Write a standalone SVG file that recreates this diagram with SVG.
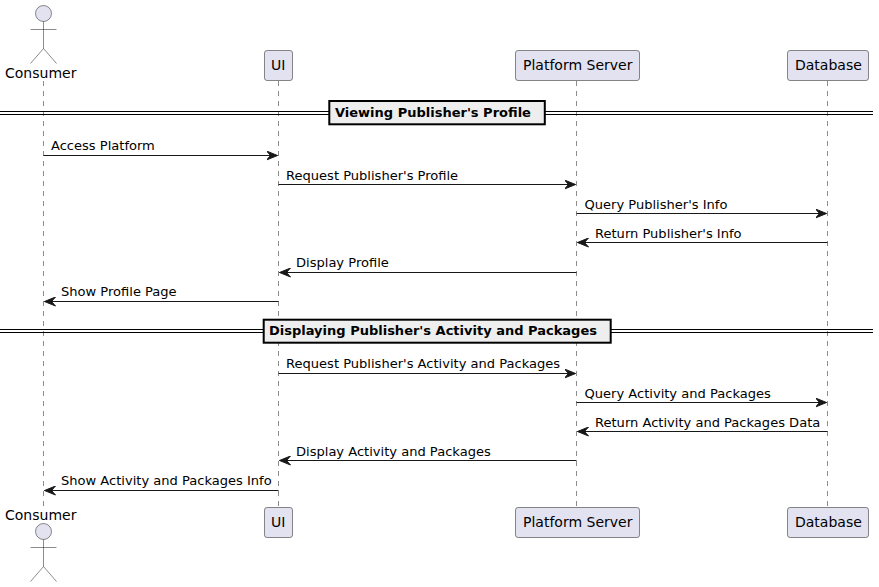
<svg xmlns="http://www.w3.org/2000/svg" width="879" height="587" viewBox="0 0 879 587">
<style>
text{font-family:"DejaVu Sans",sans-serif;fill:#000}
.p{font-size:14px}
.m{font-size:13.05px}
.box{fill:#E2E2F0;stroke:#181818;stroke-width:.5}
.life{stroke:#181818;stroke-width:.5;stroke-dasharray:5,5;fill:none}
.msg{stroke:#181818;stroke-width:1;fill:none}
.head{fill:#181818;stroke:#181818}
.div{stroke:#000;stroke-width:1;fill:none}
.dbox{fill:#EEEEEE;stroke:#000;stroke-width:2}
.dt{font-size:13px;font-weight:bold}
.act{fill:#E2E2F0;stroke:#181818;stroke-width:.5}
</style>
<defs>
<marker id="a" viewBox="0 0 12 10" refX="11" refY="5" markerWidth="12" markerHeight="10" markerUnits="userSpaceOnUse" orient="auto"><path d="M0,0.5L11,5L0,9.5L4,5Z" class="head" stroke-width="1"/></marker>
<g id="stick"><circle cx="0" cy="0" r="8" class="act"/><path d="M0,8V35M-13,16H13M0,35L-13,50M0,35L13,50" class="act" style="fill:none"/></g>
</defs>
<g id="lifelines">
<path class="life" d="M43.500,81V507"/>
<path class="life" d="M278.500,81V507"/>
<path class="life" d="M576.500,81V507"/>
<path class="life" d="M827.500,81V507"/>
</g>
<g id="dividers">
<path class="div" d="M0,111.500H873M0,114.500H873"/>
<rect class="dbox" x="329.300" y="101" width="215.500" height="23.300"/>
<text class="dt" x="335" y="117">Viewing Publisher's Profile</text>
<path class="div" d="M0,329.500H873M0,332.500H873"/>
<rect class="dbox" x="263.700" y="319.700" width="347" height="23"/>
<text class="dt" x="269" y="335">Displaying Publisher's Activity and Packages</text>
</g>
<g id="connectors">
<path class="msg" marker-end="url(#a)" d="M43.500,155.500H277.500"/>
<path class="msg" marker-end="url(#a)" d="M278.500,184.500H575.500"/>
<path class="msg" marker-end="url(#a)" d="M576.500,213.500H826.500"/>
<path class="msg" marker-end="url(#a)" d="M827.500,242.500H577.500"/>
<path class="msg" marker-end="url(#a)" d="M576.500,272.500H279.500"/>
<path class="msg" marker-end="url(#a)" d="M278.500,301.500H44.500"/>
<path class="msg" marker-end="url(#a)" d="M278.500,373.500H575.500"/>
<path class="msg" marker-end="url(#a)" d="M576.500,402.500H826.500"/>
<path class="msg" marker-end="url(#a)" d="M827.500,431.500H577.500"/>
<path class="msg" marker-end="url(#a)" d="M576.500,460.500H279.500"/>
<path class="msg" marker-end="url(#a)" d="M278.500,490.500H44.500"/>
</g>
<g id="labels">
<text class="m" x="51" y="150">Access Platform</text>
<text class="m" x="286" y="180">Request Publisher's Profile</text>
<text class="m" x="584.500" y="209">Query Publisher's Info</text>
<text class="m" x="595" y="238">Return Publisher's Info</text>
<text class="m" x="296" y="267">Display Profile</text>
<text class="m" x="61" y="296">Show Profile Page</text>
<text class="m" x="286" y="368">Request Publisher's Activity and Packages</text>
<text class="m" x="584.500" y="398">Query Activity and Packages</text>
<text class="m" x="595" y="427">Return Activity and Packages Data</text>
<text class="m" x="296" y="456">Display Activity and Packages</text>
<text class="m" x="61" y="485">Show Activity and Packages Info</text>
</g>
<g id="consumer-top"><use href="#stick" x="43.500" y="13.500"/><text class="p" x="5" y="78">Consumer</text></g>
<g id="ui-top"><rect class="box" x="264.500" y="50.500" width="28" height="30" rx="2.500"/><text class="p" x="271" y="70">UI</text></g>
<g id="server-top"><rect class="box" x="515.500" y="50.500" width="124" height="30" rx="2.500"/><text class="p" x="523" y="70">Platform Server</text></g>
<g id="database-top"><rect class="box" x="787.500" y="50.500" width="81" height="30" rx="2.500"/><text class="p" x="795" y="70">Database</text></g>
<g id="consumer-bottom"><text class="p" x="5" y="520">Consumer</text><use href="#stick" x="43.500" y="531.500"/></g>
<g id="ui-bottom"><rect class="box" x="264.500" y="507.500" width="28" height="30" rx="2.500"/><text class="p" x="271" y="527">UI</text></g>
<g id="server-bottom"><rect class="box" x="515.500" y="507.500" width="124" height="30" rx="2.500"/><text class="p" x="523" y="527">Platform Server</text></g>
<g id="database-bottom"><rect class="box" x="787.500" y="507.500" width="81" height="30" rx="2.500"/><text class="p" x="795" y="527">Database</text></g>
</svg>
